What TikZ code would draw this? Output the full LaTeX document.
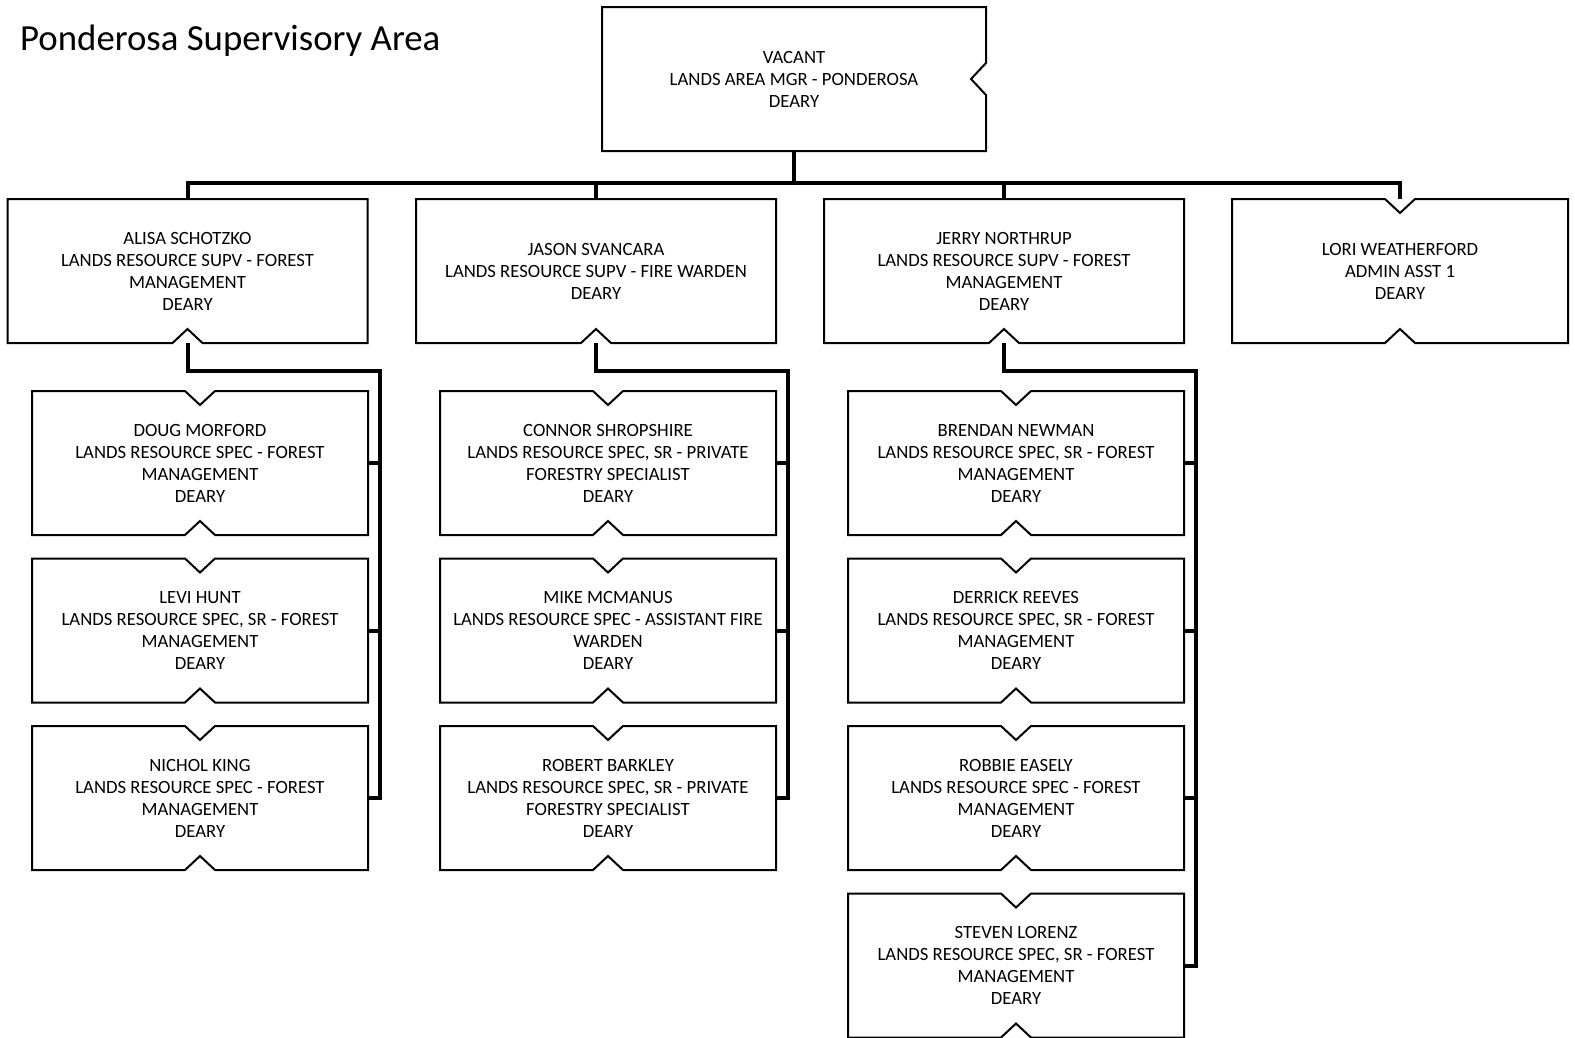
\documentclass[tikz,border=0pt]{standalone}
\usepackage{fontspec}
\setmainfont{Carlito}
\usetikzlibrary{calc}
\tikzset{
 box/.style={shape=rectangle, inner sep=0pt, outer sep=0pt, minimum height=144pt, align=center, font=\fontsize{18.7}{22}\selectfont, text=black},
 topbox/.style={box, minimum width=384pt},
 lvl/.style={box, minimum width=360pt},
 asst/.style={box, minimum width=336pt},
 sub/.style={box, minimum width=336pt},
 boxline/.style={draw=black, line width=2pt, line join=miter},
 conn/.style={draw=black, line width=4pt, line join=miter},
}
\newcommand\outB[1]{\draw[boxline] (#1.north west) -- (#1.north east) -- (#1.south east) -- ($(#1.south)+(15,0)$) -- ($(#1.south)+(0,-14)$) -- ($(#1.south)+(-15,0)$) -- (#1.south west) -- cycle;}
\newcommand\outTB[1]{\draw[boxline] (#1.north west) -- ($(#1.north)+(-15,0)$) -- ($(#1.north)+(0,14)$) -- ($(#1.north)+(15,0)$) -- (#1.north east) -- (#1.south east) -- ($(#1.south)+(15,0)$) -- ($(#1.south)+(0,-14)$) -- ($(#1.south)+(-15,0)$) -- (#1.south west) -- cycle;}
\begin{document}
\begin{tikzpicture}[x=1pt,y=-1pt]
\useasboundingbox (0,0) rectangle (1575,1037);
\fill[white] (0,0) rectangle (1575,1037);
\clip (0,0) rectangle (1575,1037);

\node[anchor=base west, font=\fontsize{36.8}{42}\selectfont, inner sep=0pt] (title) at (20,50) {Ponderosa Supervisory Area};

% top
\node[topbox] (top) at (794,79) {VACANT\\LANDS AREA MGR - PONDEROSA\\DEARY};
\draw[boxline] (top.north west) -- (top.north east) -- ($(top.east)+(0,-16)$) -- ($(top.east)+(-15,0)$) -- ($(top.east)+(0,16)$) -- (top.south east) -- (top.south west) -- cycle;

% level 1
\node[lvl] (alisa) at (187.5,271) {ALISA SCHOTZKO\\LANDS RESOURCE SUPV - FOREST\\MANAGEMENT\\DEARY};
\node[lvl] (jason) at (596,271) {JASON SVANCARA\\LANDS RESOURCE SUPV - FIRE WARDEN\\DEARY};
\node[lvl] (jerry) at (1004,271) {JERRY NORTHRUP\\LANDS RESOURCE SUPV - FOREST\\MANAGEMENT\\DEARY};
\node[asst] (lori) at (1400,271) {LORI WEATHERFORD\\ADMIN ASST 1\\DEARY};
\outB{alisa}\outB{jason}\outB{jerry}\outTB{lori}

% children of Alisa
\node[sub] (doug) at (200,463) {DOUG MORFORD\\LANDS RESOURCE SPEC - FOREST\\MANAGEMENT\\DEARY};
\node[sub] (levi) at (200,630.5) {LEVI HUNT\\LANDS RESOURCE SPEC, SR - FOREST\\MANAGEMENT\\DEARY};
\node[sub] (nichol) at (200,798) {NICHOL KING\\LANDS RESOURCE SPEC - FOREST\\MANAGEMENT\\DEARY};
\outTB{doug}\outTB{levi}\outTB{nichol}

% children of Jason
\node[sub] (connor) at (608,463) {CONNOR SHROPSHIRE\\LANDS RESOURCE SPEC, SR - PRIVATE\\FORESTRY SPECIALIST\\DEARY};
\node[sub] (mike) at (608,630.5) {MIKE MCMANUS\\LANDS RESOURCE SPEC - ASSISTANT FIRE\\WARDEN\\DEARY};
\node[sub] (robert) at (608,798) {ROBERT BARKLEY\\LANDS RESOURCE SPEC, SR - PRIVATE\\FORESTRY SPECIALIST\\DEARY};
\outTB{connor}\outTB{mike}\outTB{robert}

% children of Jerry
\node[sub] (brendan) at (1016,463) {BRENDAN NEWMAN\\LANDS RESOURCE SPEC, SR - FOREST\\MANAGEMENT\\DEARY};
\node[sub] (derrick) at (1016,630.5) {DERRICK REEVES\\LANDS RESOURCE SPEC, SR - FOREST\\MANAGEMENT\\DEARY};
\node[sub] (robbie) at (1016,798) {ROBBIE EASELY\\LANDS RESOURCE SPEC - FOREST\\MANAGEMENT\\DEARY};
\node[sub] (steven) at (1016,965.5) {STEVEN LORENZ\\LANDS RESOURCE SPEC, SR - FOREST\\MANAGEMENT\\DEARY};
\outTB{brendan}\outTB{derrick}\outTB{robbie}\outTB{steven}

% connectors top level
\coordinate (bar) at (0,183);
\draw[conn] (top.south) -- (top.south |- bar);
\draw[conn] (alisa.north) -- (alisa.north |- bar) -- (lori.north |- bar) -- (lori.north);
\draw[conn] (jason.north) -- (jason.north |- bar);
\draw[conn] (jerry.north) -- (jerry.north |- bar);

% Alisa bus
\coordinate (busA) at (380,371);
\draw[conn] (alisa.south) |- (busA) -- (busA |- nichol.east) -- (nichol.east);
\draw[conn] (doug.east) -- (doug.east -| busA);
\draw[conn] (levi.east) -- (levi.east -| busA);

% Jason bus
\coordinate (busJ) at (788,371);
\draw[conn] (jason.south) |- (busJ) -- (busJ |- robert.east) -- (robert.east);
\draw[conn] (connor.east) -- (connor.east -| busJ);
\draw[conn] (mike.east) -- (mike.east -| busJ);

% Jerry bus
\coordinate (busR) at (1196,371);
\draw[conn] (jerry.south) |- (busR) -- (busR |- steven.east) -- (steven.east);
\draw[conn] (brendan.east) -- (brendan.east -| busR);
\draw[conn] (derrick.east) -- (derrick.east -| busR);
\draw[conn] (robbie.east) -- (robbie.east -| busR);
\end{tikzpicture}
\end{document}
